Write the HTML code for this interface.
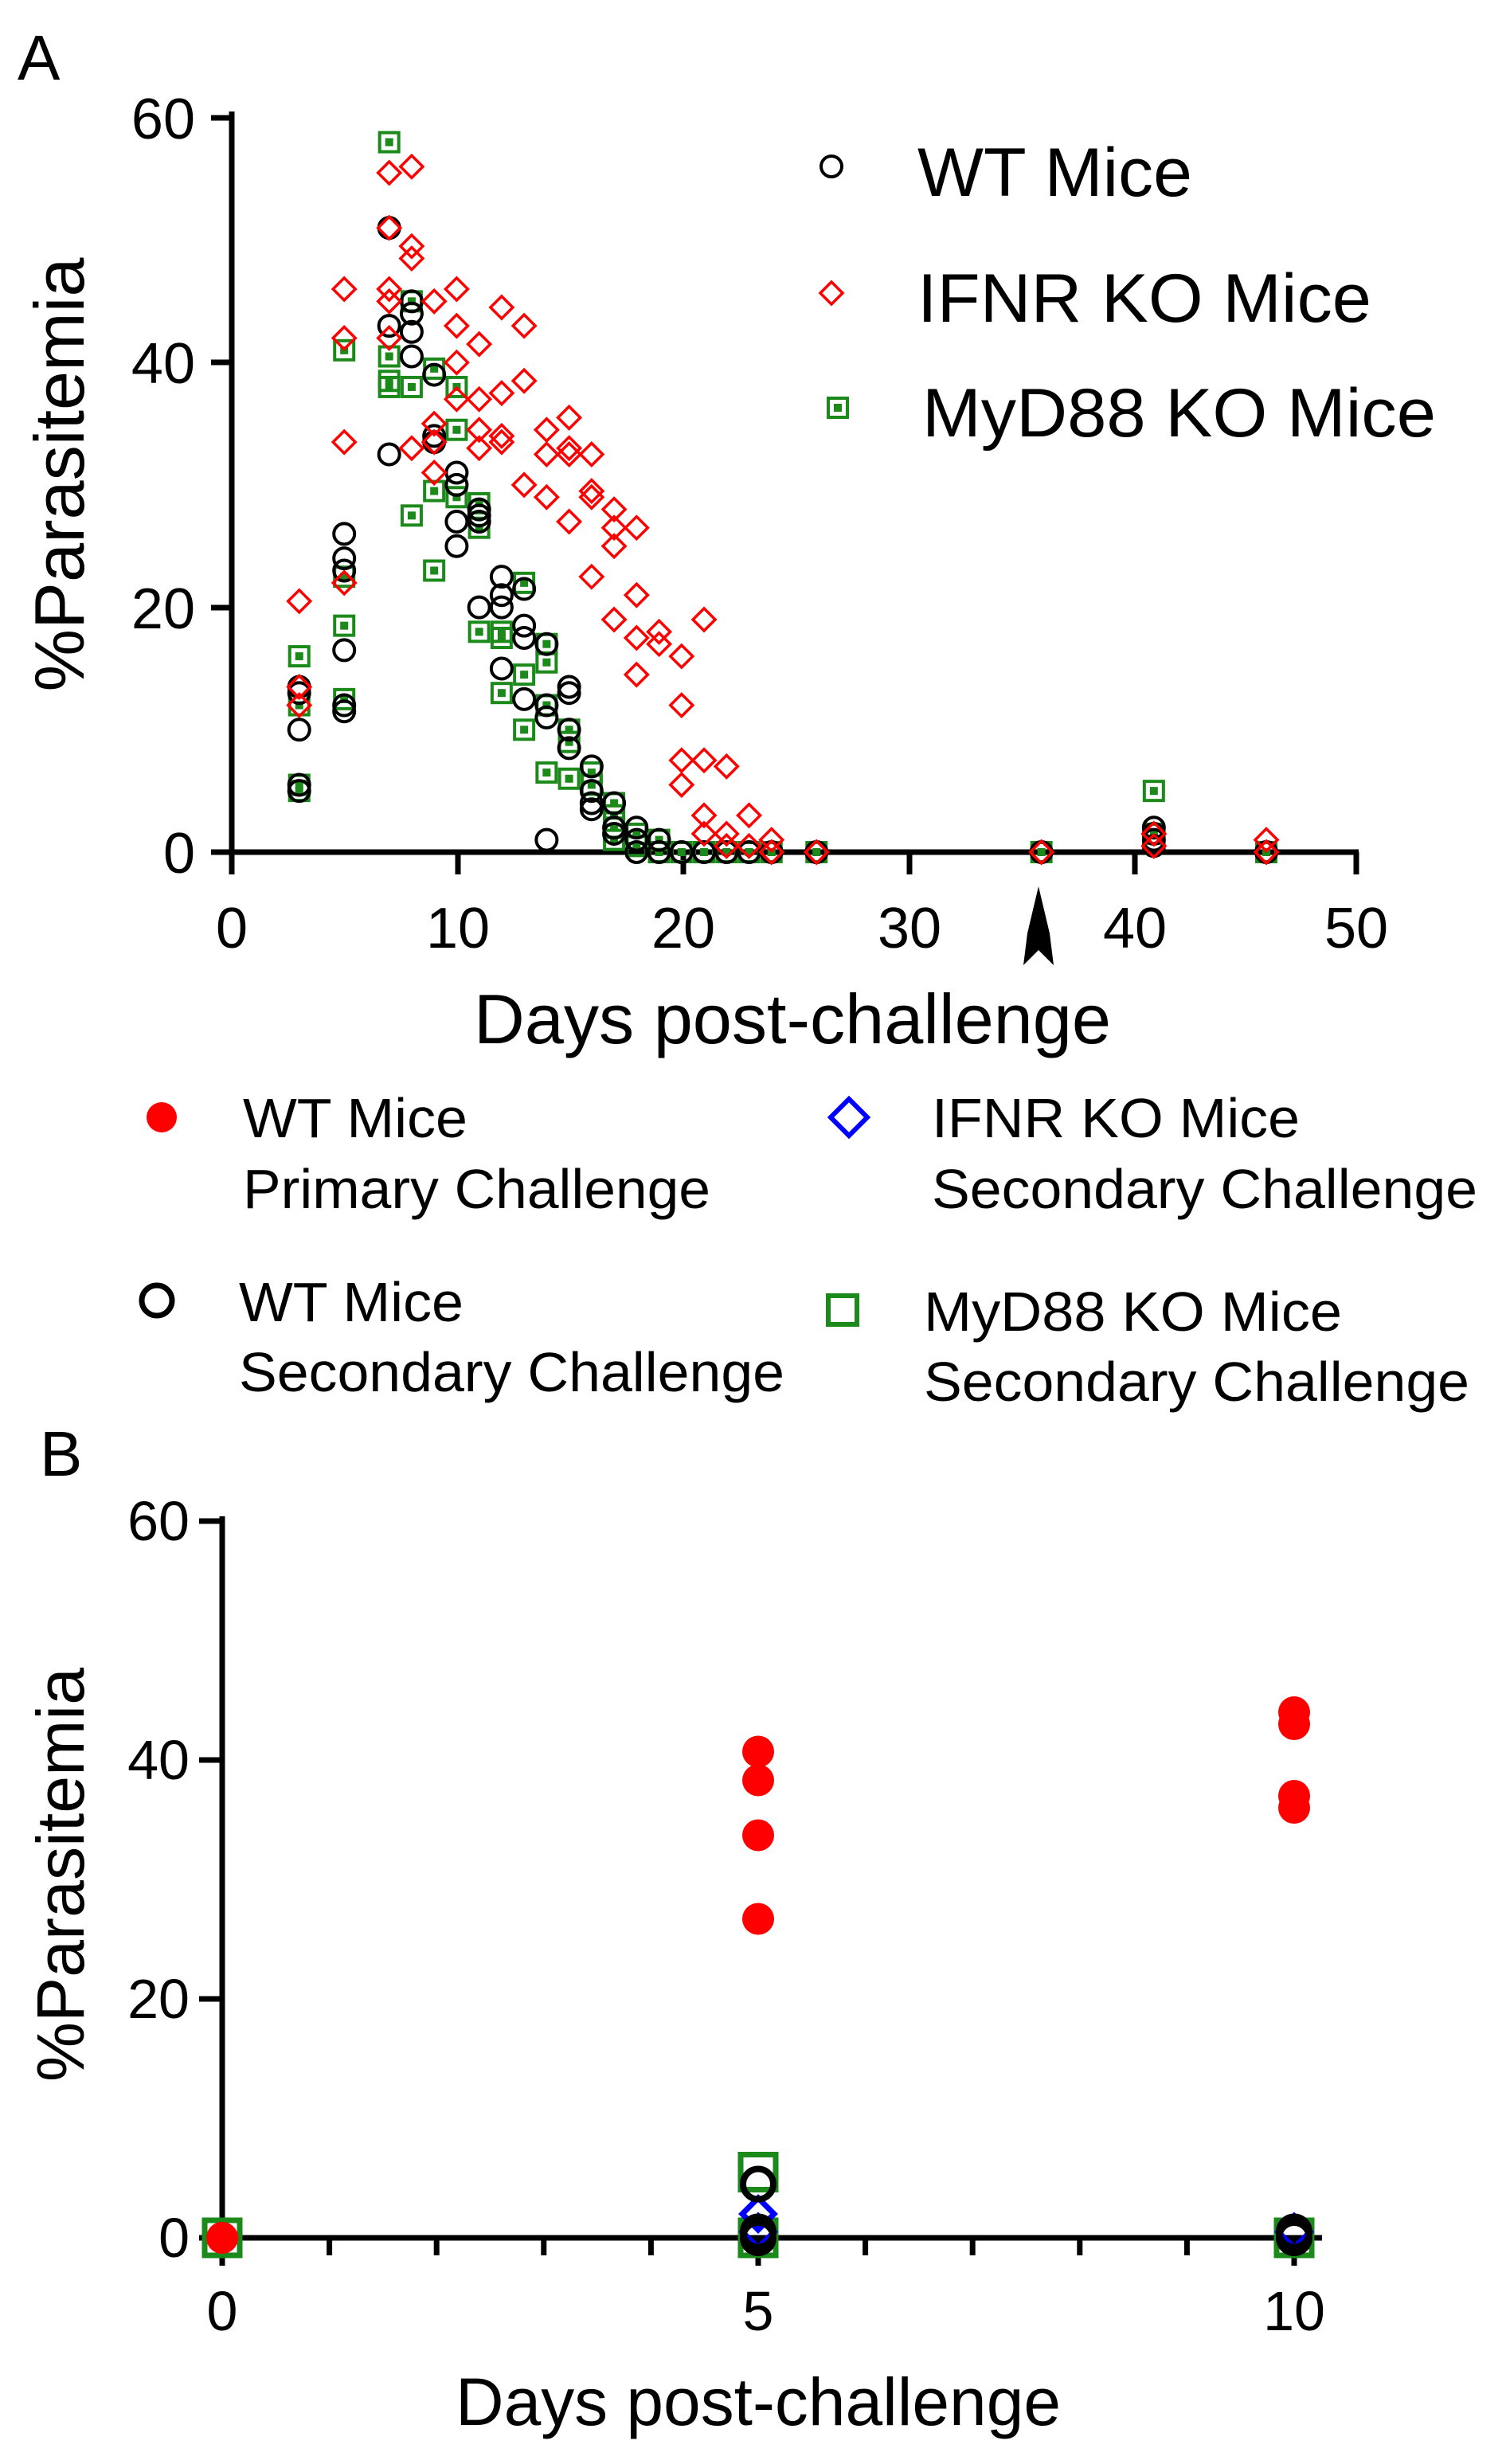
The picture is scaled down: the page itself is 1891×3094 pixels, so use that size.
<!DOCTYPE html>
<html><head><meta charset="utf-8"><style>html,body{margin:0;padding:0;background:#fff}svg{display:block}</style></head>
<body>
<svg id="s" xmlns="http://www.w3.org/2000/svg" width="1891" height="3094" viewBox="0 0 1891 3094" font-family="Liberation Sans, Arial, sans-serif">
<rect width="1891" height="3094" fill="#fff"/>
<text x="22" y="100" font-size="80">A</text>
<text x="50" y="1853" font-size="80">B</text>
<g stroke="#000" stroke-width="7" fill="none">
<line x1="291" y1="140" x2="291" y2="1073"/>
<line x1="288" y1="1070" x2="1706" y2="1070"/>
<line x1="265" y1="148" x2="291" y2="148"/>
<line x1="265" y1="455" x2="291" y2="455"/>
<line x1="265" y1="763" x2="291" y2="763"/>
<line x1="265" y1="1070" x2="291" y2="1070"/>
<line x1="291" y1="1070" x2="291" y2="1098"/>
<line x1="575" y1="1070" x2="575" y2="1098"/>
<line x1="858" y1="1070" x2="858" y2="1098"/>
<line x1="1142" y1="1070" x2="1142" y2="1098"/>
<line x1="1425" y1="1070" x2="1425" y2="1098"/>
<line x1="1703" y1="1070" x2="1703" y2="1098"/>
</g>
<g font-size="72" text-anchor="end">
<text x="245" y="174">60</text><text x="245" y="481">40</text><text x="245" y="789">20</text><text x="245" y="1096">0</text>
</g>
<g font-size="72" text-anchor="middle">
<text x="291" y="1190">0</text><text x="575" y="1190">10</text><text x="858" y="1190">20</text><text x="1142" y="1190">30</text><text x="1425" y="1190">40</text><text x="1703" y="1190">50</text>
</g>
<path d="M1304,1113 L1318,1172 L1323,1212 L1304,1193 L1285,1212 L1290,1172 Z" fill="#000"/>
<text x="995" y="1310" font-size="88" text-anchor="middle" textLength="800" lengthAdjust="spacingAndGlyphs">Days post-challenge</text>
<text transform="translate(105,596) rotate(-90)" font-size="88" text-anchor="middle" textLength="545" lengthAdjust="spacingAndGlyphs">%Parasitemia</text>
<circle cx="1044" cy="209" r="13" fill="none" stroke="#000" stroke-width="4"/>
<text x="1152" y="246" font-size="86" textLength="345" lengthAdjust="spacingAndGlyphs">WT Mice</text>
<path d="M1044,354 L1058,368 L1044,382 L1030,368 Z" fill="none" stroke="#f00" stroke-width="3.5"/>
<text x="1152" y="404" font-size="86" textLength="570" lengthAdjust="spacingAndGlyphs">IFNR KO Mice</text>
<rect x="1040" y="500" width="24" height="24" fill="none" stroke="#1b8a1b" stroke-width="4"/><rect x="1047" y="507" width="10" height="10" fill="#1b8a1b"/>
<text x="1158" y="548" font-size="86" textLength="645" lengthAdjust="spacingAndGlyphs">MyD88 KO Mice</text>
<g id="A"></g>
<circle cx="203" cy="1403" r="19" fill="#f00"/>
<text x="305" y="1428" font-size="70" textLength="282" lengthAdjust="spacingAndGlyphs">WT Mice</text>
<text x="305" y="1517" font-size="70" textLength="587" lengthAdjust="spacingAndGlyphs">Primary Challenge</text>
<circle cx="197" cy="1633" r="19" fill="none" stroke="#000" stroke-width="7"/>
<text x="300" y="1659" font-size="70" textLength="282" lengthAdjust="spacingAndGlyphs">WT Mice</text>
<text x="300" y="1747" font-size="70" textLength="685" lengthAdjust="spacingAndGlyphs">Secondary Challenge</text>
<path d="M1066,1380 L1089,1403 L1066,1426 L1043,1403 Z" fill="none" stroke="#00f" stroke-width="6"/>
<text x="1170" y="1428" font-size="70" textLength="462" lengthAdjust="spacingAndGlyphs">IFNR KO Mice</text>
<text x="1170" y="1517" font-size="70" textLength="685" lengthAdjust="spacingAndGlyphs">Secondary Challenge</text>
<rect x="1040" y="1627" width="36" height="36" fill="none" stroke="#1b8a1b" stroke-width="6"/>
<text x="1160" y="1671" font-size="70" textLength="525" lengthAdjust="spacingAndGlyphs">MyD88 KO Mice</text>
<text x="1160" y="1759" font-size="70" textLength="685" lengthAdjust="spacingAndGlyphs">Secondary Challenge</text>
<g stroke="#000" stroke-width="7" fill="none">
<line x1="279" y1="1904" x2="279" y2="2815"/>
<line x1="276" y1="2810" x2="1660" y2="2810"/>
<line x1="250" y1="1910" x2="279" y2="1910"/>
<line x1="250" y1="2210" x2="279" y2="2210"/>
<line x1="250" y1="2510" x2="279" y2="2510"/>
<line x1="250" y1="2810" x2="279" y2="2810"/>
<line x1="279" y1="2810" x2="279" y2="2845"/>
<line x1="952" y1="2810" x2="952" y2="2845"/>
<line x1="1625" y1="2810" x2="1625" y2="2845"/>
</g>
<g id="Bt" stroke="#000" stroke-width="7"></g>
<g font-size="70" text-anchor="end">
<text x="238" y="1934">60</text><text x="238" y="2234">40</text><text x="238" y="2534">20</text><text x="238" y="2834">0</text>
</g>
<g font-size="70" text-anchor="middle">
<text x="279" y="2926">0</text><text x="952" y="2926">5</text><text x="1625" y="2926">10</text>
</g>
<text x="952" y="3045" font-size="84" text-anchor="middle" textLength="760" lengthAdjust="spacingAndGlyphs">Days post-challenge</text>
<text transform="translate(105,2354) rotate(-90)" font-size="84" text-anchor="middle" textLength="520" lengthAdjust="spacingAndGlyphs">%Parasitemia</text>
<g id="B"></g>
</svg>
<script>
var NS="http://www.w3.org/2000/svg";
function el(p,t,a){var e=document.createElementNS(NS,t);for(var k in a)e.setAttribute(k,a[k]);p.appendChild(e);return e;}
var A=document.getElementById('A');
function ax(d){return 291+d*28.24;} function ay(v){return 1070-v*15.37;}
var wt={3:[13.5,13,10,5.5,5],5:[26,24,23,16.5,12,11.5],7:[51,43,32.5],8:[45,44,42.5,40.5],9:[39,34,33.5],10:[31,30,27,25],11:[28,27.5,27,20],12:[22.5,21,20,15],13:[21.5,18.5,17.5,12.5],14:[17,12,11,1],15:[13.5,13,10,8.5],16:[7,5,4,3.5],17:[4,2,1.5],18:[2,1,0],19:[1,0],20:[0],21:[0],22:[0],23:[0],24:[0],26:[0],36:[0],41:[2,1.5,1,0.5],46:[0]};
var ifn={3:[20.5,13.5,12],5:[46,42,33.5,22],7:[55.5,51,46,45,42],8:[56,49.5,48.5,33],9:[45,35,33.5,31],10:[46,43,40,37],11:[41.5,37,34.5,33],12:[44.5,37.5,34,33.5],13:[43,38.5,30],14:[34.5,32.5,29],15:[35.5,33,32.5,27],16:[29.5,29,22.5,32.5],17:[28,26.5,25,19],18:[26.5,21,17.5,14.5],19:[18,17],20:[16,12,7.5,5.5],21:[19,7.5,3,1.5],22:[7,1.5,0.5],23:[3,0.5],24:[1,0],26:[0],36:[0],41:[1.5,0.5],46:[1,0]};
var my={3:[16,12,5.5,5],5:[41,22.5,18.5,12.5],7:[58,40.5,38.5,38],8:[45,38,27.5],9:[39.5,29.5,23],10:[38,34.5,29],11:[28.5,26.5,18],12:[18,17.5,13],13:[22,14.5,10],14:[17,15.5,12,6.5],15:[10,9,6],16:[6.5,5.5],17:[4,3,2,1],18:[1.5,0.5],19:[1,0],20:[0],21:[0],22:[0],23:[0],24:[0],26:[0],36:[0],41:[5,1.5],46:[0]};
for(var d in my)my[d].forEach(function(v){var x=ax(+d),y=ay(v);el(A,'rect',{x:x-12,y:y-12,width:24,height:24,fill:'none',stroke:'#1b8a1b','stroke-width':4});el(A,'rect',{x:x-5,y:y-5,width:10,height:10,fill:'#1b8a1b'});});
for(var d in wt)wt[d].forEach(function(v){el(A,'circle',{cx:ax(+d),cy:ay(v),r:13,fill:'none',stroke:'#000','stroke-width':4});});
for(var d in ifn)ifn[d].forEach(function(v){var x=ax(+d),y=ay(v);el(A,'path',{d:'M'+x+','+(y-14)+'L'+(x+14)+','+y+'L'+x+','+(y+14)+'L'+(x-14)+','+y+'Z',fill:'none',stroke:'#f00','stroke-width':3.5});});
var Bt=document.getElementById('Bt');
for(var i=1;i<10;i++){if(i==5)continue;var x=279+i*134.6;el(Bt,'line',{x1:x,y1:2810,x2:x,y2:2832});}
var B=document.getElementById('B');
function bx(d){return 279+d*134.6;} function by(v){return 2810-v*15;}
[[0,0],[5,5.5],[5,0],[10,0]].forEach(function(p){var x=bx(p[0]),y=by(p[1]);el(B,'rect',{x:x-22,y:y-22,width:44,height:44,fill:'none',stroke:'#1b8a1b','stroke-width':7});});
[[5,2],[5,0.5],[10,0.5]].forEach(function(p){var x=bx(p[0]),y=by(p[1]);el(B,'path',{d:'M'+x+','+(y-20)+'L'+(x+20)+','+y+'L'+x+','+(y+20)+'L'+(x-20)+','+y+'Z',fill:'none',stroke:'#00f','stroke-width':7});});
[[5,4.5],[5,0.5],[5,0],[10,0.5],[10,0]].forEach(function(p){el(B,'circle',{cx:bx(p[0]),cy:by(p[1]),r:19,fill:'none',stroke:'#000','stroke-width':8});});
[[0,0],[5,40.7],[5,38.3],[5,33.7],[5,26.7],[10,44],[10,43],[10,37],[10,36]].forEach(function(p){el(B,'circle',{cx:bx(p[0]),cy:by(p[1]),r:20,fill:'#f00'});});
</script>
</body></html>
